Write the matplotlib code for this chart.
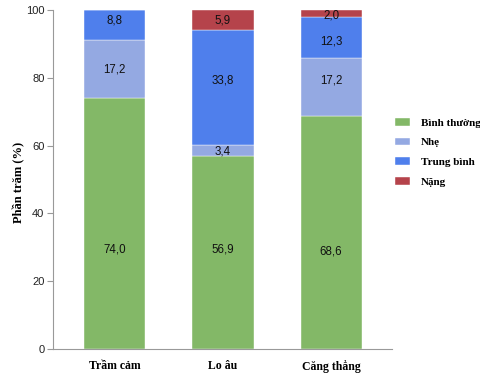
import matplotlib
matplotlib.use("Agg")
import matplotlib.pyplot as plt
import numpy as np

categories = ["Trầm cảm", "Lo âu", "Căng thẳng"]
series = ["Bình thường", "Nhẹ", "Trung bình", "Nặng"]
binh_thuong = [74.0, 56.9, 68.6]
nhe = [17.2, 3.4, 17.2]
trung_binh = [8.8, 33.8, 12.3]
nang = [0.0, 5.9, 2.0]
colors = ["#83b867", "#94a9e2", "#4f7fec", "#b5434b"]

# where the value labels sit in the reference (data units), per series
label_y = [
    [29.2, 29.4, 28.7],
    [82.6, 58.4, 79.1],
    [96.8, 79.1, 90.6],
    [None, 96.8, 98.5],
]

serif = ["Liberation Serif", "DejaVu Serif"]
sans = ["Liberation Sans", "DejaVu Sans"]

fig = plt.figure(figsize=(4.8, 3.74), dpi=100)
ax = fig.add_axes([0.110, 0.067, 0.707, 0.906])

x = np.arange(len(categories))
bottom = np.zeros(len(categories))
for name, vals, col, ly in zip(series, [binh_thuong, nhe, trung_binh, nang], colors, label_y):
    vals = np.array(vals)
    ax.bar(x, vals, width=0.565, bottom=bottom, color=col, label=name,
           edgecolor="white", linewidth=0.3)
    for xi, v, yy in zip(x, vals, ly):
        if v > 0:
            ax.text(xi, yy, f"{v:.1f}".replace(".", ","), ha="center",
                    va="center", fontsize=8.3, family=sans, color="#111111")
    bottom += vals

ax.set_xlim(-0.574, 2.565)
ax.set_ylim(0, 100)
ax.set_yticks(range(0, 101, 20))
ax.set_xticks(x)
ax.set_xticklabels(categories, family=serif, fontweight="bold", fontsize=8.5)
for lab in ax.get_yticklabels():
    lab.set_family(sans)
    lab.set_fontsize(8)
ax.tick_params(axis="y", length=4, color="#999999", pad=2, labelcolor="#222222")
ax.tick_params(axis="x", length=0, pad=8)
for s in ["top", "right"]:
    ax.spines[s].set_visible(False)
for s in ["left", "bottom"]:
    ax.spines[s].set_color("#999999")
    ax.spines[s].set_linewidth(0.8)

ax.set_ylabel("Phần trăm (%)", family=serif, fontweight="bold", fontsize=9)
ax.yaxis.set_label_coords(-0.08, 0.49)

fig.legend(loc="upper left", bbox_to_anchor=(0.822, 0.685), frameon=False,
           prop={"family": serif, "weight": "bold", "size": 8},
           handlelength=1.35, handleheight=0.7, handletextpad=1.0,
           labelspacing=0.9, borderpad=0, borderaxespad=0)

fig.savefig("out.png", dpi=100)
